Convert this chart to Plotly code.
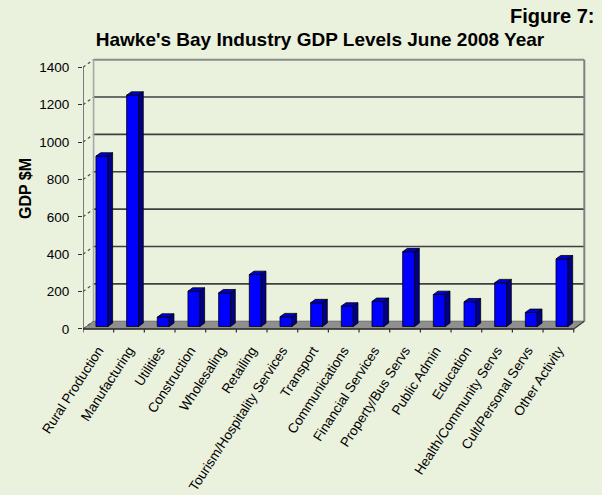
import plotly.graph_objects as go

# Industry GDP, Hawke's Bay, June 2008 year ($M)
categories = [
    "Rural Production", "Manufacturing", "Utilities", "Construction",
    "Wholesaling", "Retailing", "Tourism/Hospitality Services", "Transport",
    "Communications", "Financial Services", "Property/Bus Servs",
    "Public Admin", "Education", "Health/Community Servs",
    "Cult/Personal Servs", "Other Activity",
]
gdp = [912, 1238, 50, 189, 180, 278, 52, 127, 109, 134, 400, 171, 132, 234, 75, 362]
y_ticks = [0, 200, 400, 600, 800, 1000, 1200, 1400]

# oblique "3-D" geometry, in axis units
DEPTH_X, DEPTH_Y = 0.345, 41.0      # floor / wall depth
BAR_W = 0.39                        # front face width
BAR_OX, BAR_OY = 0.117, 13.0        # front face set back from the front edge
SIDE_X, SIDE_Y = 0.153, 18.0        # bar depth

BG = "#EAF1DD"
FONT = "Liberation Sans, Arial, sans-serif"
n = len(categories)
centers = [i + 0.5 for i in range(n)]
ymax = y_ticks[-1]

shapes = []
# floor
shapes.append(dict(type="path", xref="x", yref="y", layer="below",
                   path=f"M 0,0 L {n},0 L {n + DEPTH_X},{DEPTH_Y} L {DEPTH_X},{DEPTH_Y} Z",
                   fillcolor="#8F8F8F", line=dict(color="#6E6E6E", width=1)))
# back-wall gridlines
for v in y_ticks[1:]:
    top = v == ymax
    shapes.append(dict(type="line", xref="x", yref="y", layer="below",
                       x0=DEPTH_X, x1=n + DEPTH_X, y0=v + DEPTH_Y, y1=v + DEPTH_Y,
                       line=dict(color="#8A8A8A" if top else "#404040", width=2 if top else 1.6)))
# left-wall diagonals from the front ticks to the back wall
for v in y_ticks:
    shapes.append(dict(type="line", xref="x", yref="y", layer="below",
                       x0=0, x1=DEPTH_X, y0=v, y1=v + DEPTH_Y,
                       line=dict(color="#505050", width=1.2, dash="dot")))
# back wall verticals
shapes.append(dict(type="line", xref="x", yref="y", layer="below",
                   x0=DEPTH_X, x1=DEPTH_X, y0=DEPTH_Y, y1=ymax + DEPTH_Y,
                   line=dict(color="#A8A8A8", width=1.6)))
shapes.append(dict(type="line", xref="x", yref="y", layer="below",
                   x0=n + DEPTH_X, x1=n + DEPTH_X, y0=DEPTH_Y, y1=ymax + DEPTH_Y,
                   line=dict(color="#808080", width=2)))
# right floor corner
shapes.append(dict(type="line", xref="x", yref="y", layer="below",
                   x0=n, x1=n + DEPTH_X, y0=0, y1=DEPTH_Y,
                   line=dict(color="#404040", width=1.2)))
# front axes
shapes.append(dict(type="line", xref="x", yref="y", layer="below",
                   x0=0, x1=0, y0=0, y1=ymax, line=dict(color="#555555", width=1.5)))
shapes.append(dict(type="line", xref="x", yref="y", layer="below",
                   x0=0, x1=n, y0=0, y1=0, line=dict(color="#303030", width=1.5)))
# category boundary ticks below the front edge
for k in range(n + 1):
    shapes.append(dict(type="line", xref="x", yref="y", layer="below",
                       x0=k, x1=k, y0=0, y1=-19, line=dict(color="#303030", width=1.2)))

fig = go.Figure()

# front faces
fig.add_trace(go.Bar(
    x=[c + BAR_OX for c in centers], y=gdp, base=BAR_OY, width=BAR_W,
    marker=dict(color="#0000FF", line=dict(color="#000000", width=0.8)),
    hoverinfo="skip",
))

# side and top faces built from the same values
side_x, side_y, top_x, top_y = [], [], [], []
for c, v in zip(centers, gdp):
    x0 = c + BAR_OX - BAR_W / 2
    x1 = c + BAR_OX + BAR_W / 2
    y0 = BAR_OY
    y1 = BAR_OY + v
    side_x += [x1, x1 + SIDE_X, x1 + SIDE_X, x1, x1, None]
    side_y += [y0, y0 + SIDE_Y, y1 + SIDE_Y, y1, y0, None]
    top_x += [x0, x1, x1 + SIDE_X, x0 + SIDE_X, x0, None]
    top_y += [y1, y1, y1 + SIDE_Y, y1 + SIDE_Y, y1, None]

fig.add_trace(go.Scatter(x=side_x, y=side_y, mode="lines", fill="toself",
                         fillcolor="#000088", line=dict(color="#000000", width=0.8),
                         hoverinfo="skip"))
fig.add_trace(go.Scatter(x=top_x, y=top_y, mode="lines", fill="toself",
                         fillcolor="#0000CC", line=dict(color="#000000", width=0.8),
                         hoverinfo="skip"))

fig.update_layout(
    width=602, height=495,
    margin=dict(l=83, r=16, t=58, b=162),
    paper_bgcolor=BG, plot_bgcolor=BG,
    showlegend=False,
    shapes=shapes,
    font=dict(family=FONT, color="#000000"),
    title=dict(text="<b>Hawke's Bay Industry GDP Levels June 2008 Year</b>",
               x=320 / 602, xanchor="center", y=1 - 39 / 495, yanchor="middle",
               yref="container", font=dict(family=FONT, size=19, color="#000000")),
    annotations=[
        dict(text="<b>Figure 7:</b>", xref="paper", yref="paper",
             x=(596 - 83) / 503, y=(333 - 16) / 275, xanchor="right", yanchor="middle",
             showarrow=False, font=dict(family=FONT, size=20)),
        dict(text="<b>GDP $M</b>", xref="paper", yref="paper",
             x=(25 - 83) / 503, y=(333 - 189) / 275, xanchor="center", yanchor="middle",
             textangle=-90, showarrow=False, font=dict(family=FONT, size=16)),
    ],
    xaxis=dict(range=[0, n + 0.4], tickvals=centers, ticktext=categories,
               tickangle=-57, ticks="", showgrid=False, zeroline=False, showline=False,
               ticklabelstandoff=6,
               tickfont=dict(family=FONT, size=13.5), automargin=False, fixedrange=True),
    yaxis=dict(range=[-22, 1450], tickvals=y_ticks, ticks="outside", ticklen=4,
               tickcolor="#303030", showgrid=False, zeroline=False, showline=False,
               ticklabelstandoff=6,
               tickfont=dict(family=FONT, size=13.5), automargin=False, fixedrange=True),
)

fig.write_html("out.html")
